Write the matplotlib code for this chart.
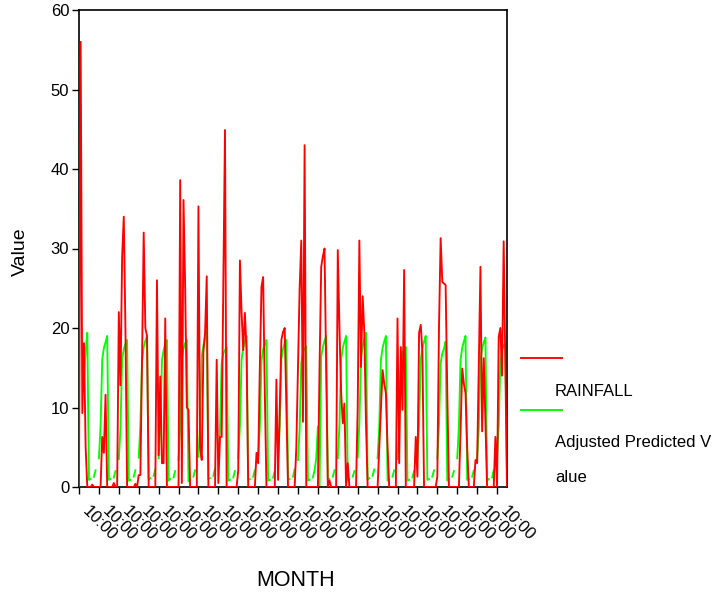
import numpy as np
import matplotlib.pyplot as plt
from matplotlib.lines import Line2D
import matplotlib.transforms as mtrans

nan = np.nan

# monthly rainfall, one row per year (last year partial)
rainfall = [
    0, 56, 9.3, 18.1, 5, 0, 0, 0, 0.3, 0, 0, 0,
    0, 0, 6.3, 4.3, 11.6, 0, 0, 0, 0, 0.5, 0, 0,
    22, 12.8, 29, 34, 19.7, 0, 0, 0, 0, 0, 0.4, 0,
    1.5, 1.5, 16, 32, 20, 19, 0, 0, 0, 0, 0, 26,
    4, 13.9, 3, 3, 21.2, 0, 0, 0, 0, 0, 0, 0,
    0, 38.6, 0.5, 36.1, 25, 10, 9.7, 0, 0, 0, 0, 0,
    35.3, 5, 3.4, 17, 19.4, 26.5, 0, 0, 0, 0, 0, 16,
    0.5, 6.3, 6.3, 25, 44.9, 0, 0, 0, 0, 0, 0, 0,
    2.1, 28.5, 22, 17.2, 21.9, 17.2, 0, 0, 0, 0, 0, 4.3,
    3, 15, 25.2, 26.4, 12, 0, 0, 0, 0, 0, 0, 13.5,
    0.9, 10, 18.5, 19.5, 20, 10, 0, 0, 0, 0, 0, 5,
    15, 25, 31, 8.2, 43, 0, 0, 0, 0, 0, 0, 0,
    0, 15, 27.7, 29, 30, 15, 0, 0.8, 0, 0, 0, 0,
    29.8, 20, 12, 8, 10.5, 0, 3, 0, 0, 0, 0, 0,
    10, 31, 15.1, 24, 19.4, 8, 0, 0, 0, 0, 0, 0,
    0, 5, 10, 14.7, 13, 11.8, 5, 0, 0, 0, 0, 0,
    21.2, 3, 17.6, 9.7, 27.3, 0, 0, 0, 0, 0, 0, 6.3,
    1.3, 19.4, 20.4, 17, 0, 0, 0, 0, 0, 0, 0, 0,
    1.3, 20, 31.3, 25.8, 25.6, 25.4, 12, 0, 0, 0, 0, 0,
    0, 0, 7, 14.9, 13, 11.8, 5, 0, 0, 0, 0, 3.4,
    3, 15, 27.7, 7, 16.2, 8, 0, 0, 0, 0, 0, 6.3,
    0, 18.9, 20, 14, 30.9, 15, 0,
]

# adjusted predicted values (gaps are missing)
predicted = [
    nan, nan, nan, 13.5, 17.2, 19.4, 0.9, 1.0, nan, 1.3, 2.1, nan,
    3.6, 7.6, 16.0, 17.5, 18.2, 19.0, 0.9, 1.0, nan, 1.2, 2.0, nan,
    3.5, 7.4, 16.2, 17.3, 18.0, 18.5, 0.8, 0.9, nan, 1.3, 2.1, nan,
    3.7, 7.8, 15.8, 17.6, 18.4, 19.0, 0.9, 1.1, nan, 1.4, 2.2, nan,
    3.6, 7.5, 15.9, 17.2, 18.0, 18.5, 0.8, 1.0, nan, 1.2, 2.0, nan,
    3.4, 7.6, 16.1, 17.4, 18.1, 18.5, 0.7, 0.9, nan, 1.3, 2.1, nan,
    3.8, 7.9, 16.4, 17.8, 18.9, 19.6, 1.0, 1.1, nan, 1.4, 2.3, nan,
    3.5, 7.2, 15.5, 16.8, 17.2, 17.6, 0.8, 0.9, nan, 1.2, 2.0, nan,
    3.6, 7.7, 16.0, 17.5, 18.3, 19.0, 0.9, 1.0, nan, 1.3, 2.1, nan,
    3.5, 7.5, 15.9, 17.3, 18.0, 18.5, 0.8, 0.9, nan, 1.2, 2.0, nan,
    3.6, 7.6, 16.1, 17.4, 18.1, 18.5, 0.9, 1.0, nan, 1.3, 2.2, nan,
    3.4, 7.3, 15.6, 16.9, 17.4, 17.7, 0.8, 0.9, nan, 1.2, 2.1, 3.6,
    7.6, 0.0, 16.4, 17.6, 18.4, 19.0, 0.9, 1.0, nan, 1.3, 2.1, nan,
    3.6, 7.7, 16.0, 17.5, 18.3, 19.0, 0.8, 1.0, nan, 1.3, 2.0, nan,
    3.7, 7.9, 16.3, 17.7, 18.7, 19.4, 0.9, 1.1, nan, 1.4, 2.2, nan,
    3.6, 7.6, 16.0, 17.5, 18.3, 19.0, 0.8, 1.0, nan, 1.3, 2.1, nan,
    3.5, 7.3, 15.6, 16.9, 17.3, 17.6, 0.8, 0.9, nan, 1.2, 2.0, nan,
    3.6, 7.7, 16.0, 17.5, 18.3, 19.0, 0.9, 1.0, nan, 1.3, 2.1, nan,
    3.6, 7.8, 15.6, 16.8, 17.4, 18.3, 0.8, 1.0, nan, 1.3, 2.0, nan,
    3.6, 7.6, 16.0, 17.5, 18.3, 19.0, 0.9, 1.0, nan, 1.3, 2.1, nan,
    3.5, 7.5, 15.9, 17.4, 18.2, 18.8, 0.8, 1.0, nan, 1.2, 2.1, nan,
    3.6, 7.6, 15.8, 17.2, 17.8, 18.1, 0.9,
]

tick_labels = ['10:00'] * 22
red = '#ff0000'
green = '#00ff00'

plt.rcParams['font.family'] = ['Liberation Sans', 'DejaVu Sans']

W, H = 725, 599
fig = plt.figure(figsize=(W / 100, H / 100), dpi=100)
ax = fig.add_axes([79 / W, 1 - 487 / H, 428 / W, 477 / H])

months = np.arange(len(rainfall))
ax.plot(months, predicted, color=green, lw=1.35, zorder=2)
ax.plot(months, rainfall, color=red, lw=1.35, zorder=3)

ax.set_xlim(0, len(rainfall) - 1)
ax.set_ylim(0, 60)
ax.set_yticks(np.arange(0, 61, 10))
ax.set_xticks(np.arange(0, len(rainfall), 12))
ax.set_xticklabels(tick_labels, rotation=-45, ha='left', va='top',
                   rotation_mode='anchor', fontsize=12)
ax.tick_params(axis='y', labelsize=12, length=5, width=1, direction='out', pad=2)
ax.tick_params(axis='x', length=5, width=1, direction='out', pad=3)
# shift the slanted labels right/down like the original
offset = mtrans.ScaledTranslation(11 / 100, -5 / 100, fig.dpi_scale_trans)
for lab in ax.get_xticklabels():
    lab.set_transform(lab.get_transform() + offset)
for s in ax.spines.values():
    s.set_linewidth(1.2)

fig.text(20 / W, 1 - 252 / H, 'Value', rotation=90, ha='center', va='center', fontsize=14)
fig.text(296 / W, 1 - 581 / H, 'MONTH', ha='center', va='center', fontsize=15.5)

# legend drawn SPSS style: line, then text underneath
fig.add_artist(Line2D([521 / W, 562 / W], [1 - 358 / H, 1 - 358 / H], color=red, lw=1.35))
fig.add_artist(Line2D([521 / W, 562 / W], [1 - 410 / H, 1 - 410 / H], color=green, lw=1.35))
fig.text(555 / W, 1 - 391 / H, 'RAINFALL', ha='left', va='center', fontsize=12)
fig.text(555 / W, 1 - 443 / H, 'Adjusted Predicted V', ha='left', va='center', fontsize=12)
fig.text(555 / W, 1 - 478 / H, 'alue', ha='left', va='center', fontsize=12)

fig.savefig('out.png', dpi=100)
